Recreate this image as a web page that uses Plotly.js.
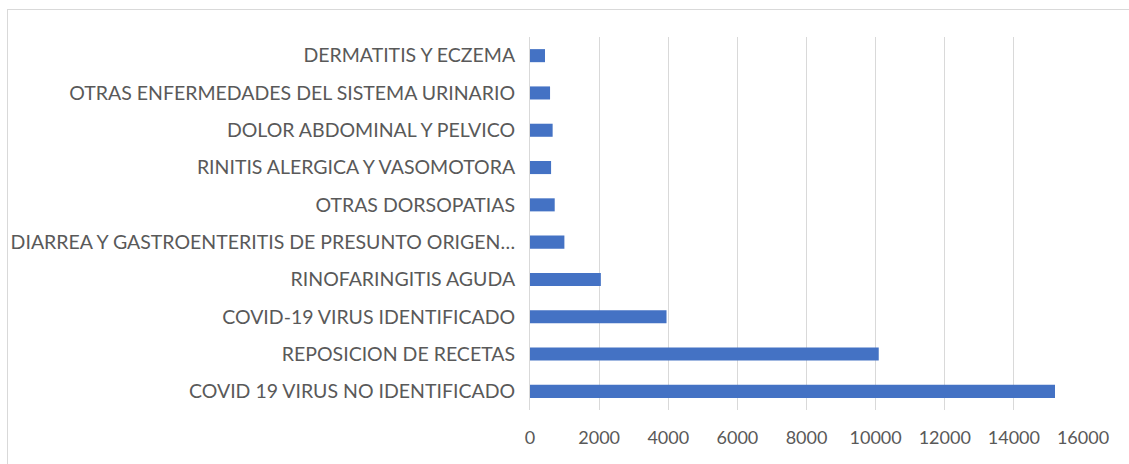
<!DOCTYPE html>
<html>
<head>
<meta charset="utf-8">
<script src="https://cdn.plot.ly/plotly-3.0.1.min.js"></script>
<style>
  html, body { margin: 0; padding: 0; background: #fff; }
  #frame { position: absolute; left: 7px; top: 9px; width: 1130px; height: 470px; border-left: 1px solid #d9d9d9; border-top: 1px solid #d9d9d9; box-sizing: border-box; }
  #chart { position: absolute; left: 0; top: 0; width: 1129px; height: 464px; }
</style>
</head>
<body>
<div id="frame"></div>
<div id="chart"></div>
<script>
const categories = [
  "COVID 19 VIRUS NO IDENTIFICADO",
  "REPOSICION DE RECETAS",
  "COVID-19 VIRUS IDENTIFICADO",
  "RINOFARINGITIS AGUDA",
  "DIARREA Y GASTROENTERITIS DE PRESUNTO ORIGEN…",
  "OTRAS DORSOPATIAS",
  "RINITIS ALERGICA Y VASOMOTORA",
  "DOLOR ABDOMINAL Y PELVICO",
  "OTRAS ENFERMEDADES DEL SISTEMA URINARIO",
  "DERMATITIS Y ECZEMA"
];
const values = [15190, 10090, 3950, 2050, 995, 715, 610, 655, 580, 435];
const xTicks = [0, 2000, 4000, 6000, 8000, 10000, 12000, 14000, 16000];

Plotly.newPlot('chart', [{
  type: 'bar',
  orientation: 'h',
  y: categories,
  x: values,
  width: 0.35,
  marker: { color: '#4472c4' },
  hoverinfo: 'x+y'
}], {
  width: 1129,
  height: 464,
  margin: { l: 530, r: 46, t: 37, b: 54 },
  paper_bgcolor: 'rgba(0,0,0,0)',
  plot_bgcolor: 'rgba(0,0,0,0)',
  showlegend: false,
  font: { family: 'Lato, "Open Sans", sans-serif', size: 16, color: '#595959' },
  xaxis: {
    range: [0, 16000],
    tickvals: xTicks,
    ticktext: xTicks.map(String),
    showgrid: true,
    gridcolor: '#d9d9d9',
    gridwidth: 1,
    zeroline: false,
    showline: false,
    ticks: '',
    ticklabelstandoff: 15,
    tickfont: { size: 18, color: '#595959' },
    fixedrange: true
  },
  yaxis: {
    type: 'category',
    categoryorder: 'array',
    categoryarray: categories,
    showgrid: false,
    zeroline: false,
    showline: true,
    linecolor: '#d9d9d9',
    linewidth: 1,
    ticks: '',
    ticklabelstandoff: 10,
    tickfont: { size: 19.5, color: '#595959' },
    fixedrange: true
  }
}, { displayModeBar: false, staticPlot: true });
</script>
</body>
</html>
